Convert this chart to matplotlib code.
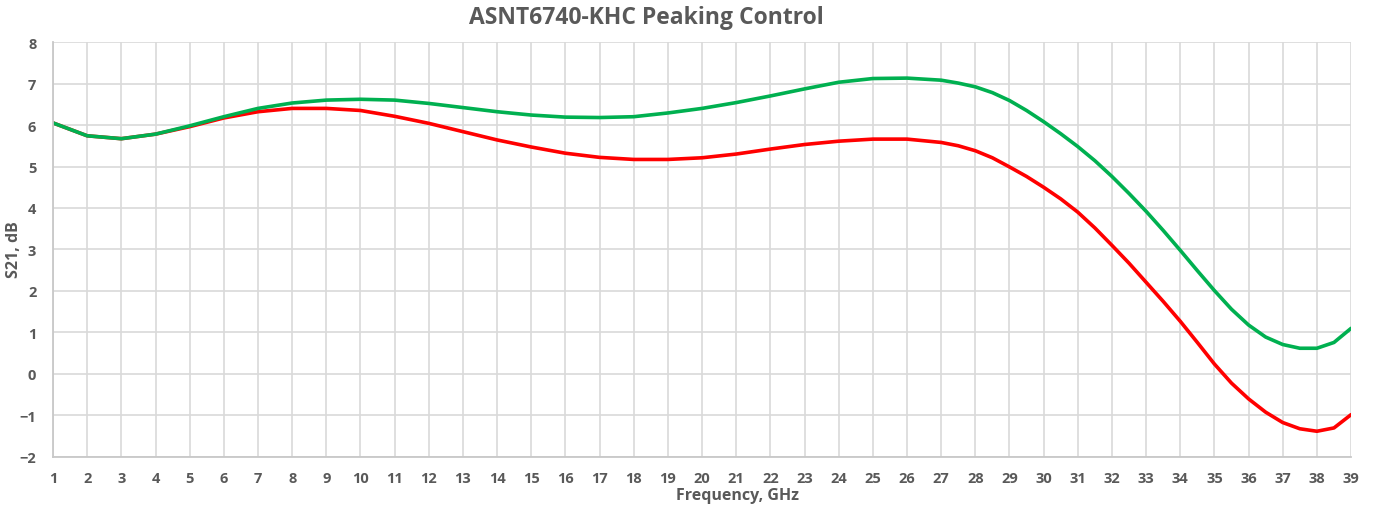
import matplotlib.pyplot as plt

# 1 GHz steps up to 27, then 0.5 GHz steps where the curves bend more
freq = list(range(1, 27)) + [27 + 0.5 * i for i in range(25)]
green = [6.05, 5.74, 5.67, 5.78, 5.98, 6.2, 6.4, 6.53, 6.6, 6.62,
         6.6, 6.52, 6.42, 6.32, 6.24, 6.19, 6.18, 6.2, 6.29, 6.4,
         6.54, 6.7, 6.87, 7.03, 7.12, 7.13,
         7.08, 7.01, 6.92, 6.78, 6.59, 6.35, 6.08, 5.79, 5.48, 5.14,
         4.76, 4.35, 3.92, 3.46, 2.98, 2.49, 2.01, 1.56, 1.18, 0.89,
         0.71, 0.62, 0.62, 0.76, 1.1]
red = [6.05, 5.74, 5.67, 5.78, 5.96, 6.17, 6.32, 6.4, 6.4, 6.35,
       6.21, 6.04, 5.84, 5.64, 5.47, 5.32, 5.22, 5.17, 5.17, 5.21,
       5.3, 5.42, 5.53, 5.61, 5.66, 5.66,
       5.58, 5.5, 5.38, 5.21, 4.99, 4.76, 4.5, 4.22, 3.9, 3.52,
       3.1, 2.67, 2.21, 1.75, 1.27, 0.76, 0.24, -0.22, -0.6, -0.92,
       -1.17, -1.32, -1.38, -1.3, -0.98]
xticks = list(range(1, 40))
yticks = list(range(-2, 9))

txt = '#595959'
grid = '#d9d9d9'
plt.rcParams['font.family'] = ['Open Sans', 'DejaVu Sans']

fig = plt.figure(figsize=(13.74, 5.06), dpi=100)
ax = fig.add_axes([0.0386, 0.0949, 0.9447, 0.8201])

ax.plot(freq, red, color='#ff0000', linewidth=2.6,
        solid_capstyle='round', solid_joinstyle='round')
ax.plot(freq, green, color='#00b050', linewidth=2.6,
        solid_capstyle='round', solid_joinstyle='round')

ax.set_xlim(1, 39)
ax.set_ylim(-2, 8)
ax.set_xticks(xticks)
ax.set_yticks(yticks)
ax.grid(True, color=grid, linewidth=1.2)
ax.set_axisbelow(True)
for s in ['top', 'right']:
    ax.spines[s].set_visible(False)
for s in ['left', 'bottom']:
    ax.spines[s].set_color('#c8c8c8')
    ax.spines[s].set_linewidth(1.3)
ax.tick_params(length=0, labelsize=10.5, labelcolor=txt)
ax.tick_params(axis='x', pad=10)
ax.tick_params(axis='y', pad=12)
for lab in ax.get_xticklabels() + ax.get_yticklabels():
    lab.set_fontweight('bold')

fig.text(737 / 1374, 1 - 496 / 506, 'Frequency, GHz', fontsize=11.5, color=txt,
         fontweight='bold', ha='center', va='center')
fig.text(14 / 1374, 1 - 250 / 506, 'S21, dB', fontsize=11.5, color=txt,
         fontweight='bold', ha='center', va='center', rotation=90)
fig.text(646 / 1374, 1 - 18 / 506, 'ASNT6740-KHC Peaking Control', fontsize=16.5,
         color=txt, fontweight='bold', ha='center', va='center')

fig.savefig('out.png', dpi=100)
